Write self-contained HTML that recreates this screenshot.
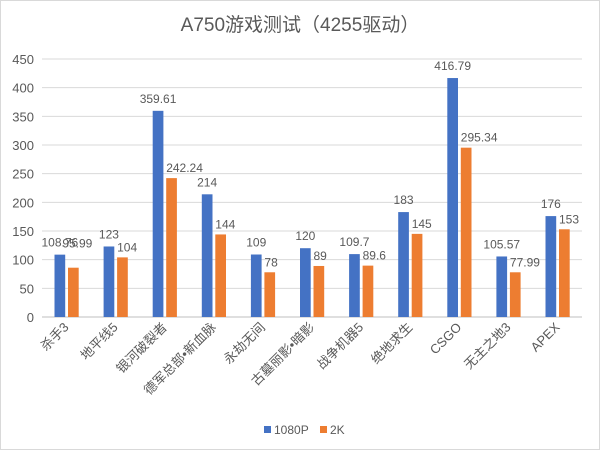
<!DOCTYPE html>
<html><head><meta charset="utf-8"><style>
body{margin:0;background:#fff}
svg{display:block;font-family:"Liberation Sans","Noto Sans CJK SC",sans-serif}
</style></head><body>
<svg id="c" width="600" height="450">
<rect x="0.5" y="0.5" width="599" height="449" fill="#fff" stroke="#d9d9d9"/>
<text x="300" y="31" text-anchor="middle" font-size="19" fill="#595959">A750游戏测试（4255驱动）</text>
<g id="grid"></g><g id="bars"></g><g id="labels"></g>
<g>
<rect x="264" y="426" width="7" height="7" fill="#4472c4"/>
<text x="274" y="434" font-size="12" fill="#595959">1080P</text>
<rect x="320" y="426" width="7" height="7" fill="#ed7d31"/>
<text x="330" y="434" font-size="12" fill="#595959">2K</text>
</g>
</svg>
<script>
const categories=["杀手3","地平线5","银河破裂者","德军总部:新血脉","永劫无间","古墓丽影:暗影","战争机器5","绝地求生","CSGO","无主之地3","APEX"];
const series1080=[108.76,123,359.61,214,109,120,109.7,183,416.79,105.57,176];
const series2k=[85.99,104,242.24,144,78,89,89.6,145,295.34,77.99,153];
const labels1080=["108.76","123","359.61","214","109","120","109.7","183","416.79","105.57","176"];
const labels2k=["95.99","104","242.24","144","78","89","89.6","145","295.34","77.99","153"];
const yTicks=[0,50,100,150,200,250,300,350,400,450];
categories[3]="德军总部•新血脉";categories[5]="古墓丽影•暗影";
const NS="http://www.w3.org/2000/svg";
const x0=42,step=49.1,y0=317,ppu=258/450,bw=10.7;
const y=v=>y0-v*ppu;
const xc=i=>x0+i*step;
function mk(tag,attrs,parent,txt){const e=document.createElementNS(NS,tag);for(const k in attrs)e.setAttribute(k,attrs[k]);if(txt!==undefined)e.textContent=txt;document.getElementById(parent).appendChild(e);return e;}
yTicks.forEach(t=>{
 const l=mk('line',{x1:x0,x2:582,y1:y(t),y2:y(t),stroke:t===0?'#bfbfbf':'#d9d9d9','stroke-width':1},'grid');
 
 
 const tx=mk('text',{x:34,y:y(t)+5,'text-anchor':'end','font-size':13,fill:'#595959'},'grid',String(t));
 
 
});
categories.forEach((c,i)=>{
 const bx=xc(i)+12.5, ox=bx+13.5;
 const b=mk('rect',{x:bx,y:y(series1080[i]),width:bw,height:series1080[i]*ppu,fill:'#4472c4'},'bars');
 
 
 const o=mk('rect',{x:ox,y:y(series2k[i]),width:bw,height:series2k[i]*ppu,fill:'#ed7d31'},'bars');
 
 
 const l1=mk('text',{x:bx+bw/2,y:y(series1080[i])-8,'text-anchor':'middle','font-size':12,fill:'#595959'},'labels',labels1080[i]);
 
 
 const l2=mk('text',{x:ox+bw/2+(i===0?4:6),y:y(series2k[i])-(i===0?20:6),'text-anchor':i===0?'middle':'start','font-size':12,fill:'#595959'},'labels',labels2k[i]);
 if(i!==0)l2.setAttribute('x',ox);
 
 
 const cx=xc(i)+step/2+3;
 const cl=mk('text',{x:cx,y:328,'text-anchor':'end','font-size':13,fill:'#595959',transform:`rotate(-45 ${cx} 328)`},'labels',c);
 
 
});
</script>
</body></html>
